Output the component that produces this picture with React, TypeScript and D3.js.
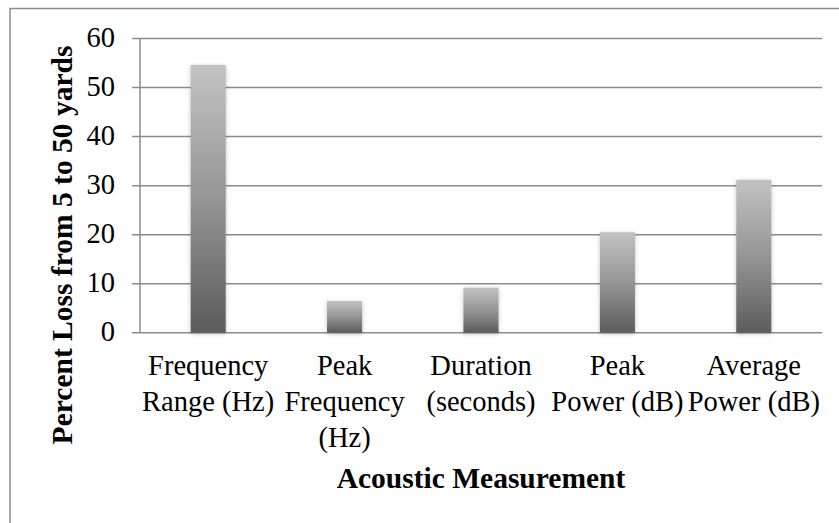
import React from "react";
import * as d3 from "d3";

const categories: string[][] = [
  ["Frequency", "Range (Hz)"],
  ["Peak", "Frequency", "(Hz)"],
  ["Duration", "(seconds)"],
  ["Peak", "Power (dB)"],
  ["Average", "Power (dB)"],
];
const values: number[] = [54.6, 6.5, 9.2, 20.5, 31.2];
const yTicks: number[] = [0, 10, 20, 30, 40, 50, 60];
const yTitle = "Percent Loss from 5 to 50 yards";
const xTitle = "Acoustic Measurement";

const W = 839;
const H = 523;
const plot = { left: 140, right: 822, top: 38.5, bottom: 332.8 };
const fontStyle = { fontFamily: "'Liberation Serif', Tinos, 'Times New Roman', serif" };

export default function App() {
  const x = d3
    .scaleBand<number>()
    .domain(d3.range(values.length))
    .range([plot.left, plot.right])
    .paddingInner(0)
    .paddingOuter(0);
  const y = d3.scaleLinear().domain([0, 60]).range([plot.bottom, plot.top]);
  const barW = x.bandwidth() * 0.257;

  return (
    <svg
      width={W}
      height={H}
      style={{ position: "absolute", left: 0, top: 0, background: "#fff" }}
    >
      <defs>
        <linearGradient id="barGrad" x1="0" y1="0" x2="0" y2="1">
          <stop offset="0%" stopColor="#c2c2c2" />
          <stop offset="50%" stopColor="#959595" />
          <stop offset="100%" stopColor="#5c5c5c" />
        </linearGradient>
        <filter id="shadow" x="-50%" y="-10%" width="200%" height="130%">
          <feDropShadow dx="0" dy="1" stdDeviation="2" floodColor="#000" floodOpacity="0.25" />
        </filter>
      </defs>
      <rect x={10} y={8.5} width={850} height={530} fill="#fff" stroke="#8a8a8a" strokeWidth={1.5} />

      {yTicks.map((t) => (
        <line
          key={"g" + t}
          x1={plot.left - 8}
          x2={plot.right}
          y1={y(t)}
          y2={y(t)}
          stroke="#8c8c8c"
          strokeWidth={1.5}
        />
      ))}
      <line x1={plot.left} x2={plot.left} y1={plot.top} y2={plot.bottom} stroke="#8c8c8c" strokeWidth={1.5} />

      {values.map((v, i) => {
        const cx = (x(i) as number) + x.bandwidth() / 2;
        return (
          <rect
            key={"b" + i}
            x={cx - barW / 2}
            y={y(v)}
            width={barW}
            height={y(0) - y(v)}
            fill="url(#barGrad)"
            filter="url(#shadow)"
          />
        );
      })}

      <g style={fontStyle}>
        {yTicks.map((t) => (
          <text
            key={"t" + t}
            x={115}
            y={y(t) + 2}
            textAnchor="end"
            dominantBaseline="middle"
            fontSize={28.5}
            fill="#000"
          >
            {t}
          </text>
        ))}

        {categories.map((lines, i) => {
          const cx = (x(i) as number) + x.bandwidth() / 2;
          return (
            <text key={"c" + i} textAnchor="middle" fontSize={28.5} fill="#000">
              {lines.map((l, j) => (
                <tspan key={j} x={cx} y={375 + j * 36}>
                  {l}
                </tspan>
              ))}
            </text>
          );
        })}

        <text
          x={(plot.left + plot.right) / 2}
          y={488}
          textAnchor="middle"
          fontWeight="bold"
          fontSize={29.5}
          fill="#000"
        >
          {xTitle}
        </text>
        <text
          transform={`translate(72, 245) rotate(-90)`}
          textAnchor="middle"
          fontWeight="bold"
          fontSize={29.5}
          fill="#000"
        >
          {yTitle}
        </text>
      </g>
    </svg>
  );
}
